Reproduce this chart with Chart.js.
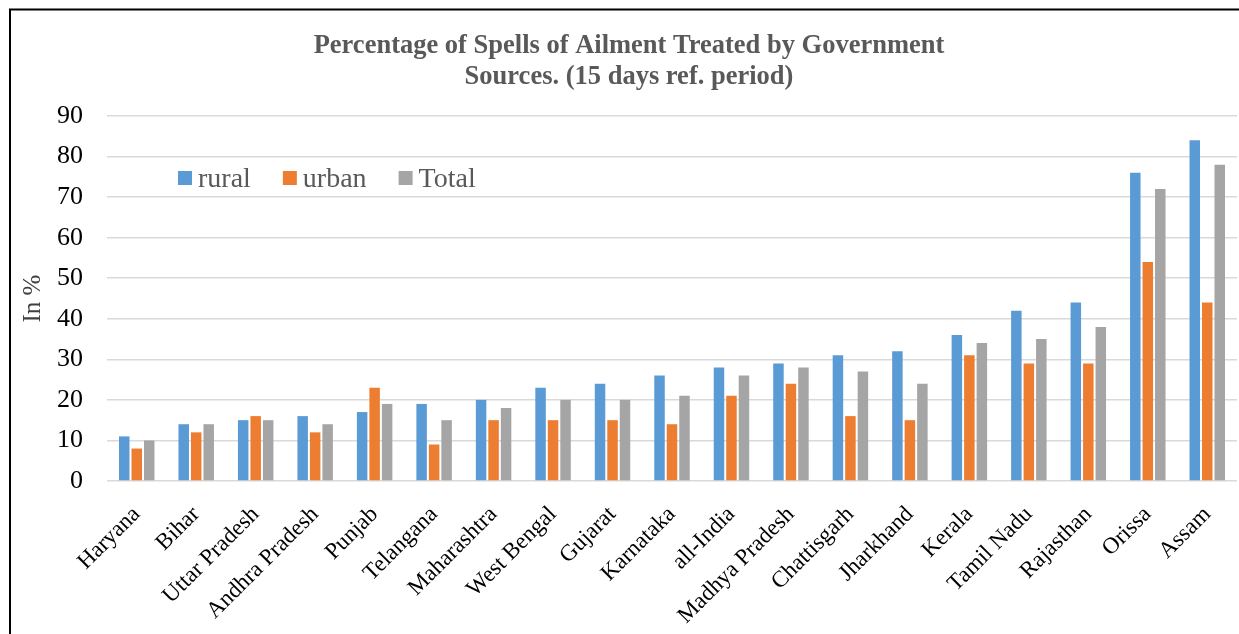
<!DOCTYPE html>
<html>
<head>
<meta charset="utf-8">
<script src="https://cdn.jsdelivr.net/npm/chart.js@4.4.0/dist/chart.umd.min.js"></script>
<style>
  html, body { margin: 0; padding: 0; background: #ffffff; }
  canvas { display: block; }
</style>
</head>
<body>
<canvas id="c" width="1239" height="634"></canvas>
<script>
const categories = ["Haryana", "Bihar", "Uttar Pradesh", "Andhra Pradesh", "Punjab", "Telangana", "Maharashtra", "West Bengal", "Gujarat", "Karnataka", "all-India", "Madhya Pradesh", "Chattisgarh", "Jharkhand", "Kerala", "Tamil Nadu", "Rajasthan", "Orissa", "Assam"];
const rural = [11, 14, 15, 16, 17, 19, 20, 23, 24, 26, 28, 29, 31, 32, 36, 42, 44, 76, 84];
const urban = [8, 12, 16, 12, 23, 9, 15, 15, 15, 14, 21, 24, 16, 15, 31, 29, 29, 54, 44];
const total = [10, 14, 15, 14, 19, 15, 18, 20, 20, 21, 26, 28, 27, 24, 34, 35, 38, 72, 78];
const seriesNames = ["rural", "urban", "Total"];
const seriesColors = ["#5B9BD5", "#ED7D31", "#A5A5A5"];
const yTicks = [0, 10, 20, 30, 40, 50, 60, 70, 80, 90];
const titleLines = ["Percentage of Spells of Ailment Treated by Government", "Sources. (15 days ref. period)"];
const yTitle = "In %";

const FONT = "'Liberation Serif', 'Times New Roman', serif";

const framePlugin = {
  id: 'frame',
  afterDraw(chart) {
    const ctx = chart.ctx;
    ctx.save();
    ctx.strokeStyle = '#000000';
    ctx.lineWidth = 2;
    ctx.beginPath();
    ctx.moveTo(10, 640);
    ctx.lineTo(10, 9.5);
    ctx.lineTo(1245, 9.5);
    ctx.stroke();
    ctx.restore();
  }
};

const legendPlugin = {
  id: 'customLegend',
  afterDraw(chart) {
    const ctx = chart.ctx;
    ctx.save();
    ctx.font = "28px " + FONT;
    ctx.textBaseline = 'alphabetic';
    let x = 178;
    const boxTop = 171, box = 14, baseline = 187;
    chart.data.datasets.forEach((ds) => {
      ctx.fillStyle = ds.backgroundColor;
      ctx.fillRect(x, boxTop, box, box);
      x += box + 6;
      ctx.fillStyle = '#595959';
      ctx.fillText(ds.label, x, baseline);
      x += ctx.measureText(ds.label).width + 32;
    });
    ctx.restore();
  }
};

const datasets = [rural, urban, total].map((vals, i) => ({
  label: seriesNames[i],
  data: vals,
  backgroundColor: seriesColors[i],
  borderWidth: 0,
  categoryPercentage: 0.63,
  barPercentage: 0.84
}));

new Chart(document.getElementById('c'), {
  type: 'bar',
  data: { labels: categories, datasets },
  plugins: [framePlugin, legendPlugin],
  options: {
    responsive: false,
    animation: false,
    devicePixelRatio: 1,
    layout: { padding: { left: 21, right: 2, top: 0, bottom: 0 } },
    plugins: {
      legend: { display: false },
      tooltip: { enabled: false },
      title: {
        display: true,
        text: titleLines,
        color: '#595959',
        font: { family: FONT, size: 26.5, weight: 'bold', lineHeight: 1.17 },
        padding: { top: 31, bottom: 23 }
      }
    },
    scales: {
      x: {
        grid: { display: false },
        border: { display: false },
        ticks: {
          color: '#000000',
          font: { family: FONT, size: 23 },
          maxRotation: 45,
          minRotation: 45,
          autoSkip: false,
          padding: 12
        },
        afterFit(scale) { scale.height = 153; }
      },
      y: {
        min: 0,
        max: 90,
        afterBuildTicks(scale) { scale.ticks = yTicks.map(v => ({ value: v })); },
        grid: { color: '#d9d9d9', lineWidth: 1.5, drawTicks: false },
        border: { display: false },
        ticks: {
          color: '#000000',
          font: { family: FONT, size: 26 },
          padding: 24
        },
        title: {
          display: true,
          text: yTitle,
          color: '#404040',
          font: { family: FONT, size: 25, lineHeight: 1 },
          padding: { top: 0, bottom: 0 }
        },
        afterFit(scale) { scale.width = 86; }
      }
    }
  }
});
</script>
</body>
</html>
